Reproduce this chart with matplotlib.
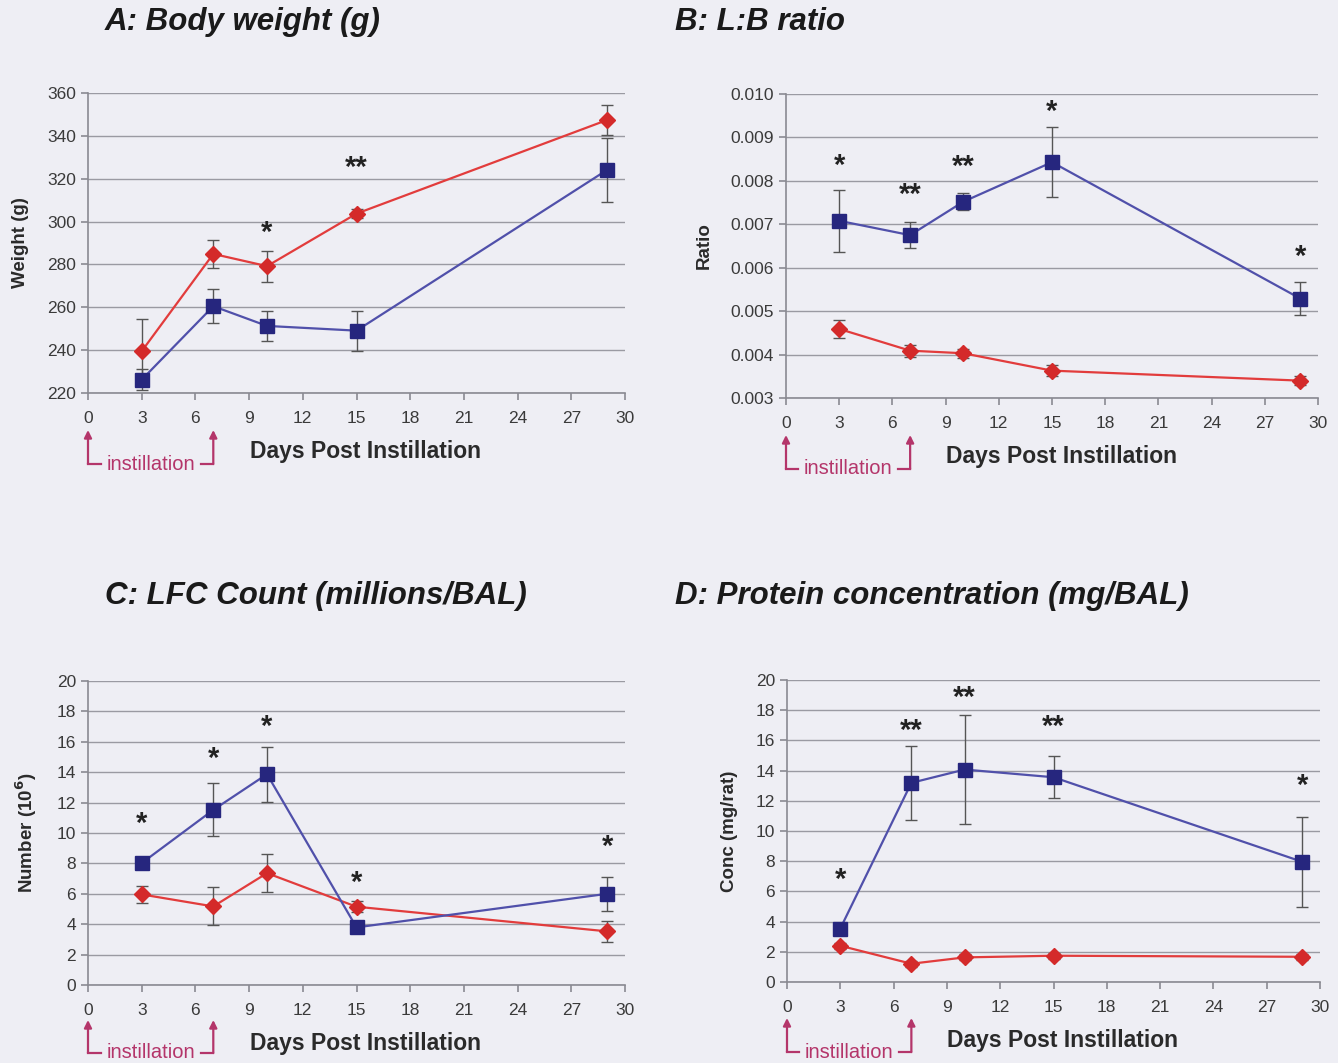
import numpy as np
import matplotlib
matplotlib.use('Agg')
import matplotlib.pyplot as plt
from matplotlib.ticker import FormatStrFormatter

plt.rcParams['font.family'] = ['Liberation Sans', 'DejaVu Sans']

# sampling days
days = [3, 7, 10, 15, 29]

# A: body weight (g)
wt_red = [239.5, 284.9, 279.2, 303.7, 347.4]
wt_red_err = [15.0, 6.5, 7.2, 2.0, 6.8]
wt_blue = [226.2, 260.5, 251.3, 249.1, 324.1]
wt_blue_err = [5.0, 8.0, 7.0, 9.3, 14.8]
wt_stars = {10: ('*', 294.8), 15: ('**', 324.8)}

# B: L:B ratio
lb_red = [0.00459, 0.00409, 0.00403, 0.00363, 0.00340]
lb_red_err = [0.00021, 0.00014, 0.00010, 0.00012, 0.00010]
lb_blue = [0.00708, 0.00675, 0.00752, 0.00843, 0.00529]
lb_blue_err = [0.00072, 0.00030, 0.00020, 0.00080, 0.00038]
lb_stars = {3: ('*', 0.00834), 7: ('**', 0.00767), 10: ('**', 0.00832),
            15: ('*', 0.00959), 29: ('*', 0.00625)}

# C: LFC count (10^6)
lfc_red = [5.96, 5.17, 7.36, 5.15, 3.53]
lfc_red_err = [0.55, 1.25, 1.25, 0.35, 0.70]
lfc_blue = [8.02, 11.52, 13.87, 3.79, 6.00]
lfc_blue_err = [0.40, 1.75, 1.80, 0.30, 1.10]
lfc_stars = {3: ('*', 10.6), 7: ('*', 14.9), 10: ('*', 17.0),
             15: ('*', 6.7), 29: ('*', 9.1)}

# D: protein concentration (mg/rat)
prot_red = [2.40, 1.21, 1.63, 1.74, 1.67]
prot_red_err = [0.20, 0.20, 0.20, 0.20, 0.20]
prot_blue = [3.54, 13.19, 14.07, 13.56, 7.96]
prot_blue_err = [0.30, 2.45, 3.60, 1.40, 3.00]
prot_stars = {3: ('*', 6.75), 7: ('**', 16.6), 10: ('**', 18.8),
              15: ('**', 16.9), 29: ('*', 13.0)}

BG = '#eeeef4'
BLUE_LINE = '#5050aa'
BLUE_MK = '#26267e'
RED_LINE = '#e23c3c'
RED_MK = '#d42a2a'
INST = '#b4356a'

W, H = 1338, 1063
fig = plt.figure(figsize=(W / 100, H / 100), dpi=100, facecolor=BG)


def panel(rect_px, ylim, yticks, ylabel, red, red_err, blue, blue_err, stars, inst_px, fmt=None):
    l, t, r, b = rect_px
    ax = fig.add_axes([l / W, 1 - b / H, (r - l) / W, (b - t) / H])
    ax.set_facecolor('none')
    ax.set_xlim(0, 30)
    ax.set_ylim(*ylim)
    ax.set_yticks(yticks)
    ax.set_xticks(range(0, 31, 3))
    if fmt:
        ax.yaxis.set_major_formatter(FormatStrFormatter(fmt))
    ax.grid(axis='y', color='#9a9aa2', lw=1.0)
    ax.set_axisbelow(True)
    for s in ['top', 'right']:
        ax.spines[s].set_visible(False)
    for s in ['left', 'bottom']:
        ax.spines[s].set_color('#8a8a92')
        ax.spines[s].set_linewidth(1.2)
    ax.tick_params(axis='both', colors='#8a8a92', length=5, width=1.2, labelsize=12.5,
                   labelcolor='#3a3a3a')
    ax.tick_params(axis='x', pad=8)

    ax.errorbar(days, red, yerr=red_err, color=RED_LINE, lw=1.6, marker='D', ms=8,
                mfc=RED_MK, mec=RED_MK, ecolor='#555555', elinewidth=1.0, capsize=4,
                capthick=1.0, zorder=3)
    ax.errorbar(days, blue, yerr=blue_err, color=BLUE_LINE, lw=1.6, marker='s', ms=10.5,
                mfc=BLUE_MK, mec=BLUE_MK, ecolor='#555555', elinewidth=1.0, capsize=4,
                capthick=1.0, zorder=4)
    for d, (s, yv) in stars.items():
        ax.text(d, yv, s, ha='center', va='center', fontsize=21, fontweight='bold',
                color='#222222')

    ax.set_ylabel(ylabel, fontsize=13.5, fontweight='bold', color='#2a2a2a', labelpad=13)
    ax.set_xlabel('Days Post Instillation', fontsize=16.5, fontweight='bold', color='#2a2a2a',
                  labelpad=10)
    ax.xaxis.label.set_x(0.517)

    # instillation bracket below the axis
    hpx = b - t
    tip, low = inst_px
    y_tip = -(tip - b) / hpx
    y_low = -(low - b) / hpx
    tr = ax.get_xaxis_transform()
    for xd in (0, 7):
        ax.annotate('', xy=(xd, y_tip), xycoords=tr, xytext=(xd, y_low), textcoords=tr,
                    arrowprops=dict(arrowstyle='-|>', color=INST, lw=1.6, mutation_scale=11,
                                    shrinkA=0, shrinkB=0), annotation_clip=False)
    ax.plot([0, 0.7], [y_low, y_low], color=INST, lw=1.6, transform=tr, clip_on=False)
    ax.plot([6.3, 7], [y_low, y_low], color=INST, lw=1.6, transform=tr, clip_on=False)
    ax.text(3.5, y_low, 'instillation', transform=tr, ha='center', va='center',
            fontsize=14.5, color=INST)
    return ax


panel((88, 93, 625, 393), (220, 360), range(220, 361, 20), 'Weight (g)',
      wt_red, wt_red_err, wt_blue, wt_blue_err, wt_stars, (430, 464))
panel((786, 94, 1318, 398), (0.003, 0.010), np.arange(0.003, 0.0101, 0.001), 'Ratio',
      lb_red, lb_red_err, lb_blue, lb_blue_err, lb_stars, (435, 469), fmt='%.3f')
panel((88, 681, 625, 985), (0, 20), range(0, 21, 2), 'Number (10$^\\mathbf{6}$)',
      lfc_red, lfc_red_err, lfc_blue, lfc_blue_err, lfc_stars, (1020, 1053))
panel((787, 680, 1320, 982), (0, 20), range(0, 21, 2), 'Conc (mg/rat)',
      prot_red, prot_red_err, prot_blue, prot_blue_err, prot_stars, (1018, 1052))

title_kw = dict(fontsize=22.5, fontweight='bold', fontstyle='italic', color='#1a1a1a', va='center')
fig.text(105 / W, 1 - 22 / H, 'A: Body weight (g)', **title_kw)
fig.text(675 / W, 1 - 22 / H, 'B: L:B ratio', **title_kw)
fig.text(105 / W, 1 - 596 / H, 'C: LFC Count (millions/BAL)', **title_kw)
fig.text(675 / W, 1 - 596 / H, 'D: Protein concentration (mg/BAL)', **title_kw)

fig.savefig('out.png', dpi=100, facecolor=BG)
